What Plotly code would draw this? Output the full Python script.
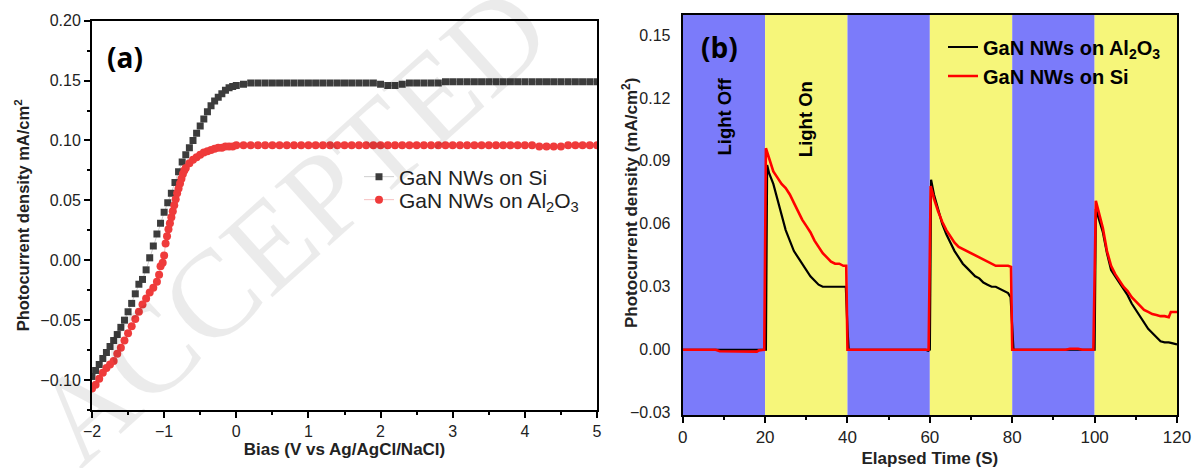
import plotly.graph_objects as go

# ---------------- Panel (a) data: photocurrent vs bias ----------------
bias_si = [-2.0, -1.95, -1.9, -1.85, -1.8, -1.75, -1.7, -1.65, -1.6, -1.55, -1.5, -1.45, -1.4, -1.35,
           -1.3, -1.25, -1.2, -1.15, -1.1, -1.05, -1.0, -0.95, -0.9, -0.85, -0.8, -0.75, -0.7, -0.65,
           -0.6, -0.55, -0.5, -0.45, -0.4, -0.35, -0.3, -0.25, -0.2, -0.15, -0.1, -0.05, 0.0,
           0.1, 0.2, 0.3, 0.4, 0.5, 0.6, 0.7, 0.8, 0.9, 1.0, 1.1, 1.2, 1.3, 1.4, 1.5, 1.6, 1.7, 1.8,
           1.9, 2.0, 2.1, 2.2, 2.3, 2.4, 2.5, 2.6, 2.7, 2.8, 2.9, 3.0, 3.1, 3.2, 3.3, 3.4, 3.5, 3.6,
           3.7, 3.8, 3.9, 4.0, 4.1, 4.2, 4.3, 4.4, 4.5, 4.6, 4.7, 4.8, 4.9, 5.0]
j_si = [-0.097, -0.092, -0.087, -0.082, -0.077, -0.072, -0.067, -0.062, -0.056, -0.050, -0.043, -0.036,
        -0.028, -0.020, -0.016, -0.008, 0.002, 0.012, 0.022, 0.031, 0.040, 0.048, 0.056, 0.065, 0.074,
        0.082, 0.088, 0.094, 0.100, 0.106, 0.112, 0.118, 0.124, 0.129, 0.133, 0.136, 0.139, 0.142,
        0.144, 0.145, 0.146,
        0.147, 0.148, 0.148, 0.148, 0.148, 0.148, 0.148, 0.148, 0.148, 0.148, 0.148, 0.148, 0.148,
        0.148, 0.148, 0.148, 0.148, 0.148, 0.148, 0.147, 0.146, 0.146, 0.147, 0.148, 0.148, 0.148,
        0.148, 0.148, 0.149, 0.149, 0.149, 0.149, 0.149, 0.149, 0.149, 0.149, 0.149, 0.149, 0.149,
        0.149, 0.149, 0.149, 0.149, 0.149, 0.149, 0.149, 0.149, 0.149, 0.149, 0.149]

bias_al = [-2.0, -1.95, -1.9, -1.85, -1.8, -1.75, -1.7, -1.65, -1.6, -1.55, -1.5, -1.45, -1.4, -1.35,
           -1.3, -1.25, -1.2, -1.15, -1.1, -1.07, -1.05, -1.02, -1.0, -0.98, -0.96, -0.94, -0.92, -0.9,
           -0.88, -0.86, -0.84, -0.82, -0.8, -0.78, -0.76, -0.74, -0.72, -0.7, -0.65, -0.6, -0.55,
           -0.5, -0.45, -0.4, -0.35, -0.3, -0.25, -0.2, -0.15, -0.1, -0.05, 0.0,
           0.1, 0.2, 0.3, 0.4, 0.5, 0.6, 0.7, 0.8, 0.9, 1.0, 1.1, 1.2, 1.3, 1.4, 1.5, 1.6, 1.7, 1.8,
           1.9, 2.0, 2.1, 2.2, 2.3, 2.4, 2.5, 2.6, 2.7, 2.8, 2.9, 3.0, 3.1, 3.2, 3.3, 3.4, 3.5, 3.6,
           3.7, 3.8, 3.9, 4.0, 4.1, 4.2, 4.3, 4.4, 4.5, 4.6, 4.7, 4.8, 4.9, 5.0]
j_al = [-0.107, -0.104, -0.099, -0.094, -0.090, -0.087, -0.084, -0.078, -0.073, -0.067, -0.061, -0.055,
        -0.049, -0.043, -0.037, -0.032, -0.027, -0.023, -0.018, -0.012, -0.005, -0.002, 0.004, 0.014,
        0.020, 0.026, 0.031, 0.036, 0.041, 0.046, 0.051, 0.056, 0.060, 0.064, 0.068, 0.072, 0.075,
        0.077, 0.081, 0.084, 0.086, 0.088, 0.090, 0.091, 0.092, 0.093, 0.094, 0.094, 0.095, 0.095,
        0.095, 0.096,
        0.096, 0.096, 0.096, 0.096, 0.096, 0.096, 0.096, 0.096, 0.096, 0.096, 0.096, 0.096, 0.096,
        0.096, 0.096, 0.096, 0.096, 0.096, 0.096, 0.096, 0.096, 0.096, 0.096, 0.096, 0.096, 0.096,
        0.096, 0.096, 0.096, 0.096, 0.096, 0.096, 0.096, 0.096, 0.096, 0.096, 0.096, 0.096, 0.096,
        0.096, 0.096, 0.095, 0.095, 0.095, 0.095, 0.096, 0.096, 0.096, 0.096, 0.096]

# ---------------- Panel (b) data: chopped-light transient ----------------
t_al = [0, 5, 10, 15, 19.5, 20.2, 20.5, 21, 22, 23, 24, 25, 26, 27, 28, 29, 30, 31, 32, 33, 34, 35,
        36, 37, 38, 39, 39.6, 40.0, 40.3, 45, 50, 55, 59, 59.6, 60.0, 60.3, 61, 62, 63, 64, 65, 66,
        67, 68, 69, 70, 71, 72, 73, 74, 75, 76, 77, 78, 79, 79.6, 80.0, 80.3, 85, 90, 95, 99.6,
        100.0, 100.3, 101, 102, 103, 104, 105, 106, 107, 108, 109, 110, 111, 112, 113, 114, 115,
        116, 117, 118, 119, 120]
j_t_al = [0, 0, 0, 0, 0, 0, 0.088, 0.084, 0.079, 0.072, 0.065, 0.057, 0.052, 0.047, 0.044, 0.041,
          0.038, 0.035, 0.033, 0.031, 0.030, 0.030, 0.030, 0.030, 0.030, 0.030, 0.030, 0.010, 0.0,
          0, 0, 0, 0, -0.0005, 0.0, 0.081, 0.074, 0.067, 0.060, 0.055, 0.051, 0.047, 0.044, 0.041,
          0.039, 0.037, 0.035, 0.034, 0.032, 0.031, 0.030, 0.030, 0.029, 0.028, 0.027, 0.025, 0.012,
          0.0, 0, 0, 0, 0, 0, 0.067, 0.062, 0.056, 0.046, 0.038, 0.035, 0.032, 0.029, 0.026, 0.022,
          0.019, 0.016, 0.013, 0.010, 0.008, 0.006, 0.004, 0.0035, 0.0035, 0.003, 0.0025]

t_si = [0, 2, 8, 9, 15, 18, 18.5, 19.8, 20.2, 21, 22, 23, 24, 25, 26, 27, 28, 29, 30, 31, 32, 33,
        34, 35, 36, 37, 38, 39, 39.7, 40.0, 45, 50, 55, 59.7, 60.2, 61, 62, 63, 64, 65, 66, 67, 68,
        69, 70, 71, 72, 73, 74, 75, 76, 77, 78, 79, 79.7, 80.0, 85, 90, 93, 94, 96, 97, 99.7, 100.3,
        101, 102, 103, 104, 105, 106, 107, 108, 109, 110, 111, 112, 113, 114, 115, 116, 117, 118,
        118.5, 119, 120]
j_t_si = [0, 0, 0, -0.0007, -0.0007, -0.0009, -0.0003, 0, 0.096, 0.091, 0.085, 0.082, 0.079, 0.077,
          0.074, 0.070, 0.066, 0.062, 0.059, 0.056, 0.052, 0.049, 0.046, 0.044, 0.042, 0.041, 0.041,
          0.040, 0.040, 0.0, 0, 0, 0, 0, 0.078, 0.072, 0.066, 0.061, 0.057, 0.054, 0.051, 0.049,
          0.048, 0.047, 0.046, 0.045, 0.044, 0.043, 0.042, 0.041, 0.040, 0.040, 0.040, 0.040, 0.0395,
          0.0, 0, 0, 0.0, 0.0005, 0.0005, 0, 0, 0.071, 0.066, 0.058, 0.047, 0.040, 0.036, 0.033,
          0.030, 0.028, 0.025, 0.023, 0.021, 0.019, 0.018, 0.017, 0.0165, 0.016, 0.016, 0.0155,
          0.018, 0.018, 0.018]

# light off / on periods
band_start = [0, 20, 40, 60, 80, 100]
band_end = [20, 40, 60, 80, 100, 120]
band_color = ["#7b7bfa", "#f6f67a", "#7b7bfa", "#f6f67a", "#7b7bfa", "#f6f67a"]

W, H = 1193, 468
SANS = "Liberation Sans, Arial, sans-serif"

fig = go.Figure()

# panel (a)
fig.add_trace(go.Scatter(
    x=bias_si, y=j_si, mode="lines+markers", name="GaN NWs on Si", showlegend=True,
    marker=dict(symbol="square", size=7, color="#3c3c3c"),
    line=dict(color="#cfcfcf", width=1), xaxis="x", yaxis="y", legend="legend"))
fig.add_trace(go.Scatter(
    x=bias_al, y=j_al, mode="lines+markers", name="GaN NWs on Al<sub>2</sub>O<sub>3</sub>",
    showlegend=True,
    marker=dict(symbol="circle", size=8, color="#ef3b3b"),
    line=dict(color="#f6c0c0", width=1), xaxis="x", yaxis="y", legend="legend3"))

# panel (b)
fig.add_trace(go.Scatter(
    x=t_al, y=j_t_al, mode="lines", name="GaN NWs on Al<sub>2</sub>O<sub>3</sub>", showlegend=True,
    line=dict(color="black", width=2.2), xaxis="x2", yaxis="y2", legend="legend2"))
fig.add_trace(go.Scatter(
    x=t_si, y=j_t_si, mode="lines", name="GaN NWs on Si", showlegend=True,
    line=dict(color="#ff0000", width=2.6), xaxis="x2", yaxis="y2", legend="legend4"))

shapes = []
for s, e, c in zip(band_start, band_end, band_color):
    shapes.append(dict(type="rect", xref="x2", yref="y2 domain", x0=s, x1=e, y0=0, y1=1,
                       fillcolor=c, line=dict(width=0), layer="below"))

axis_common = dict(showgrid=False, zeroline=False, showline=True, linecolor="black",
                   linewidth=2, mirror=True, tickcolor="black", tickwidth=2, automargin=False)

leg_a_font = dict(family=SANS, size=21, color="#222")
leg_b_font = dict(family=SANS, size=20, color="black", weight="bold")


def leg(xpx, ypx, font):
    return dict(x=xpx / W, y=1 - ypx / H, xanchor="left", yanchor="middle",
                bgcolor="rgba(0,0,0,0)", font=font, visible=True)


fig.update_layout(
    width=W, height=H, margin=dict(l=0, r=0, t=0, b=0),
    paper_bgcolor="white", plot_bgcolor="white", showlegend=True,
    xaxis=dict(domain=[92 / W, 597 / W], range=[-2, 5], anchor="y", tick0=-2, dtick=1,
               ticks="outside", ticklen=6,
               tickfont=dict(family=SANS, size=16, color="#222"),
               minor=dict(dtick=0.5, ticks="outside", ticklen=3, tickwidth=1.5, tickcolor="black"),
               title=dict(text="<b>Bias (V vs Ag/AgCl/NaCl)</b>", font=dict(family=SANS, size=17, color="#222"),
                          standoff=2),
               **axis_common),
    yaxis=dict(domain=[1 - 410 / H, 1 - 20.7 / H], range=[-0.125, 0.20], anchor="x", tick0=0,
               dtick=0.05, tickformat=".2f", ticks="outside", ticklen=6,
               tickfont=dict(family=SANS, size=16, color="#222"),
               minor=dict(dtick=0.025, ticks="outside", ticklen=3, tickwidth=1.5, tickcolor="black"),
               title=dict(text="<b>Photocurrent density mA/cm<sup>2</sup></b>",
                          font=dict(family=SANS, size=16.5, color="#222"), standoff=7),
               **axis_common),
    xaxis2=dict(domain=[682.7 / W, 1177 / W], range=[0, 120], anchor="y2", tick0=0, dtick=20,
                ticks="outside", ticklen=6,
                tickfont=dict(family=SANS, size=17, color="#222"),
                minor=dict(dtick=10, ticks="outside", ticklen=3, tickwidth=1.5, tickcolor="black"),
                title=dict(text="<b>Elapsed Time (S)</b>", font=dict(family=SANS, size=17, color="#222"),
                           standoff=8),
                **axis_common),
    yaxis2=dict(domain=[1 - 415 / H, 1 - 15 / H], range=[-0.0311, 0.1595], anchor="x2", tick0=0,
                dtick=0.03, tickformat=".2f", ticks="", ticklabelstandoff=7,
                tickfont=dict(family=SANS, size=16, color="#222"),
                **axis_common),
    shapes=shapes,
    legend=leg(359, 177, leg_a_font),
    legend3=leg(359, 200, leg_a_font),
    legend2=leg(943, 47, leg_b_font),
    legend4=leg(943, 76, leg_b_font),
    annotations=[
        dict(text="ACCEPTED", xref="paper", yref="paper", x=290 / W, y=1 - 225 / H,
             xanchor="center", yanchor="middle",
             showarrow=False, textangle=-42,
             font=dict(family="Liberation Serif, serif", size=124, color="rgba(0,0,0,0.08)")),
        dict(text="<b>Photocurrent density (mA/cm<sup>2</sup>)</b>", xref="paper", yref="paper",
             x=630 / W, y=1 - 203 / H, xanchor="center", yanchor="middle", showarrow=False,
             textangle=-90, font=dict(family=SANS, size=17, color="#222")),
        dict(text="<b>(a)</b>", xref="paper", yref="paper", x=125 / W, y=1 - 57 / H,
             xanchor="center", yanchor="middle",
             showarrow=False, font=dict(family="Open Sans, sans-serif", size=28, color="black")),
        dict(text="<b>(b)</b>", xref="paper", yref="paper", x=719 / W, y=1 - 47 / H,
             xanchor="center", yanchor="middle",
             showarrow=False, font=dict(family="Open Sans, sans-serif", size=28, color="black")),
        dict(text="<b>Light Off</b>", xref="x2", yref="y2", x=10.2, y=0.111, showarrow=False,
             xanchor="center", yanchor="middle",
             textangle=-90, font=dict(family=SANS, size=18.5, color="black")),
        dict(text="<b>Light On</b>", xref="x2", yref="y2", x=30.0, y=0.110, showarrow=False,
             xanchor="center", yanchor="middle",
             textangle=-90, font=dict(family=SANS, size=18.5, color="black")),
    ],
)

fig.write_html("out.html", config={"displayModeBar": False},
               post_script="document.body.style.margin='0';document.body.style.overflow='hidden';")
